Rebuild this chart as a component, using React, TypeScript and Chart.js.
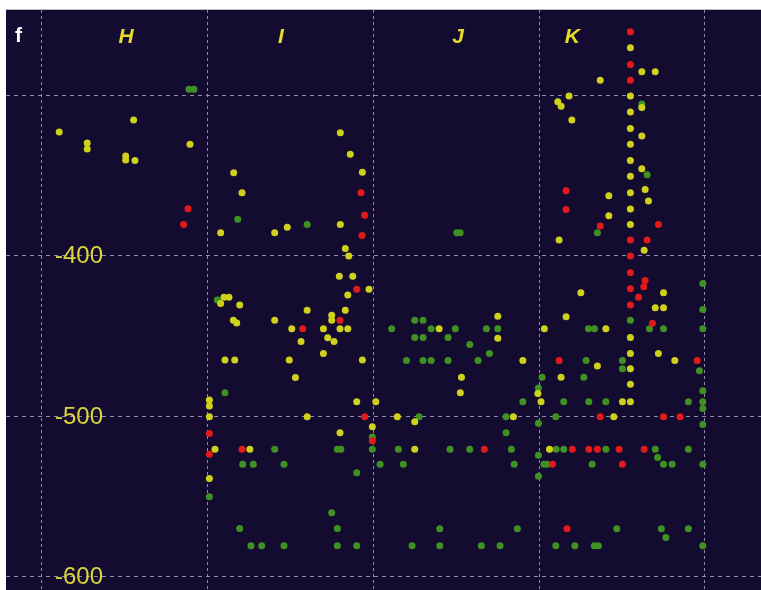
import React, { useEffect, useRef } from "react";
import { Chart, registerables } from "chart.js";

Chart.register(...registerables);

// ---- data (x in arbitrary column units, y as on the axis) ----
const yellowPts: [number, number][] = [
  [10.4, -323], [27.3, -329.9], [27.3, -333.6], [55.3, -315.6], [50.5, -338], [50.5, -340.5],
  [56.1, -340.7], [89.3, -330.7], [115.7, -348.4], [120.7, -360.9], [180, -323.5], [186, -336.8],
  [193.3, -348], [114, -244],
  [355, -270.5], [361.9, -285.5], [370, -285.5], [336.8, -290.7], [355, -300.6], [318, -300.6],
  [311.2, -304.2], [313.2, -306.9], [319.7, -315.6], [361.9, -307.7], [355, -310.6], [355, -320.8],
  [361.9, -325.5], [355, -330.7], [355, -340.7], [361.9, -345.9], [355, -350.5], [363.9, -358.8],
  [355, -360.9], [342, -362.7], [365.9, -366],
  [107.8, -385.8], [140.4, -385.8], [148, -382.4], [180, -380.6], [183, -395.5], [185.1, -400.3],
  [179.4, -412.8], [187.5, -412.8], [197.3, -421], [184.5, -424.6], [109.8, -426], [112.8, -426],
  [107.8, -429.8], [119.3, -430.8], [160, -434], [183, -434], [174.8, -437.1], [174.8, -440.2],
  [115.5, -440.2], [117.5, -441.9], [140.4, -440.2], [150.7, -445.6], [169.8, -445.6], [179.8, -445.6],
  [184.5, -445.6], [172.4, -451.2], [176.2, -453.5], [156.3, -453.5], [169.8, -461], [110.4, -465.1],
  [116.3, -465.1], [149.2, -465.1], [193.3, -465.1], [152.9, -475.9], [101, -490], [101, -493.7],
  [189.9, -491], [201.4, -491],
  [355, -371], [342, -375.2], [355, -380.6], [312, -390.3], [363.3, -396.6], [375, -423.2],
  [370, -432.5], [375, -432.5], [325.1, -423.2], [316.2, -438.1], [303.1, -445.6], [340.2, -445.6],
  [355, -451], [355, -461], [371.9, -461], [335.1, -468.7], [355, -470.5], [381.8, -465.3],
  [355, -480.2], [313.2, -475.7], [299.2, -485.9], [290.1, -465.3], [239.6, -445.6], [275, -437.7],
  [275, -451.4], [253.1, -475.7], [252.4, -485.4],
  [301.1, -491], [350.2, -491], [355, -491], [214.4, -500.4], [224.9, -503.5], [284.4, -500.4],
  [345, -500.4], [224.9, -520.6], [306.2, -520.6],
  [101, -500.4], [160, -500.4], [179.8, -510.3], [199.3, -506.6], [104.4, -520.6], [125.4, -520.6],
  [101, -538.8],
];

const greenPts: [number, number][] = [
  [88.7, -296.3], [91.7, -296.3], [361.9, -305.6], [365.1, -349.7], [118.1, -377.3], [160, -380.6],
  [105.8, -427.7], [110.4, -485.4],
  [335.1, -385.8], [250.3, -385.8], [252.3, -385.8], [398.7, -417.3], [398.7, -433.5], [355, -440.2],
  [366.5, -445.6], [375, -445.6], [398.7, -445.6], [329.7, -445.6], [333.3, -445.6], [350.2, -465.3],
  [350.2, -470.5], [396.7, -471.7], [398.7, -484.2], [328.3, -465.3], [326.9, -475.7], [301.7, -475.7],
  [299.5, -482.4], [211, -445.6], [224.9, -440.2], [229.9, -440.2], [234.8, -445.6], [249.4, -445.6],
  [224.9, -451], [229.9, -451], [245, -451], [258.1, -455.3], [268.1, -445.6], [275, -445.6],
  [270, -461], [219.9, -465.3], [229.9, -465.3], [234.8, -465.3], [245, -465.3], [263.1, -465.3],
  [290.1, -491], [314.8, -491], [329.9, -491], [340.2, -491], [390, -491], [398.7, -491],
  [398.7, -495.2], [227.5, -500.4], [280, -500.4], [299.5, -504.5], [310, -500.4], [398.7, -505.2],
  [280, -510.3], [215, -520.6], [246.2, -520.6], [258.1, -520.6], [283.2, -520.6], [299.5, -524.3],
  [310.2, -520.6], [314.8, -520.6], [340.2, -520.6], [370, -520.6], [371.4, -525.8], [390, -520.6],
  [204, -530], [218, -530], [284.9, -530], [299.5, -537.4], [302.9, -530], [304.6, -530],
  [331.9, -530], [375, -530], [380.2, -530], [398.7, -530], [240, -570.2], [286.8, -570.2],
  [346.8, -570.2], [373.7, -570.2], [376.4, -575.6], [390, -570.2], [223.3, -580.8], [240, -580.8],
  [265.1, -580.8], [276.4, -580.8], [310, -580.8], [321.5, -580.8], [333.3, -580.8], [335.7, -580.8],
  [398.7, -580.8],
  [199.3, -513], [199.3, -520.6], [140.4, -520.6], [178.2, -520.6], [180.3, -520.6], [121.1, -530],
  [127.5, -530], [146, -530], [189.9, -535.2], [101, -550.2], [174.8, -560.2], [119.3, -570],
  [178.2, -570], [126.1, -580.8], [132.6, -580.8], [146, -580.8], [178.2, -580.8], [189.9, -580.8],
];

const redPts: [number, number][] = [
  [192.5, -360.9], [355, -260.6], [355, -280.9], [355, -290.7], [316.2, -359.6], [88.1, -370.8],
  [85.5, -380.6], [194.7, -374.8], [193.1, -387.4], [189.9, -421], [179.8, -440.2], [157.3, -445.6],
  [316.2, -371.2], [336.8, -381.6], [371.9, -380.6], [355, -390.3], [365.1, -390.3], [355, -400.3],
  [355, -410.7], [363.9, -415.5], [363.1, -419.4], [355, -420.7], [359.9, -425.9], [355, -430.8],
  [368.3, -442.1], [395.3, -465.3], [312, -465.3], [336.8, -500.4], [375, -500.4], [385, -500.4],
  [266.9, -520.6], [320, -520.6], [329.9, -520.6], [335.1, -520.6], [348.2, -520.6], [363.3, -520.6],
  [308, -530], [350.2, -530], [316.8, -570.2], [194.7, -500.4], [199.3, -515.3], [101, -510.8],
  [101, -523.7], [120.7, -520.6],
];

const xGridTicks = [0, 100, 200, 300, 400];
const yGridTicks = [-600, -500, -400, -300];
const yTickValues = [-600, -500, -400];
const yTickLabels = ["-600", "-500", "-400"];

const columnLabels = ["H", "I", "J", "K"];
const columnLabelX = [50.7, 144.2, 251, 319.9];
const columnLabelY = -263.9;
const panelLabel = "f";

const toXY = (arr: [number, number][]) => arr.map(([x, y]) => ({ x, y }));

export default function App() {
  const ref = useRef<HTMLCanvasElement | null>(null);

  useEffect(() => {
    if (!ref.current) return;

    const bgPlugin = {
      id: "bg",
      beforeDraw(chart: any) {
        const { ctx, chartArea: a, width, height } = chart;
        ctx.save();
        ctx.fillStyle = "#ffffff";
        ctx.fillRect(0, 0, width, height);
        ctx.fillStyle = "#140c30";
        ctx.fillRect(a.left, a.top, a.right - a.left, a.bottom - a.top);
        ctx.strokeStyle = "#b8b8c0";
        ctx.lineWidth = 1;
        ctx.beginPath();
        ctx.moveTo(a.left, a.top - 0.5);
        ctx.lineTo(a.right, a.top - 0.5);
        ctx.stroke();
        ctx.restore();
      },
    };

    const labelPlugin = {
      id: "labels",
      afterDraw(chart: any) {
        const { ctx, scales, chartArea } = chart;
        ctx.save();
        // y tick labels, inside the plot
        ctx.textAlign = "left";
        ctx.textBaseline = "middle";
        ctx.fillStyle = "#ddd43a";
        ctx.font = "24px 'Liberation Sans', Arial, sans-serif";
        yTickValues.forEach((v, i) => {
          ctx.fillText(yTickLabels[i], chartArea.left + 49, scales.y.getPixelForValue(v) + 1);
        });
        // column labels
        ctx.textAlign = "center";
        ctx.fillStyle = "#e8dc2a";
        ctx.font = "italic bold 21px 'Liberation Sans', Arial, sans-serif";
        const yy = scales.y.getPixelForValue(columnLabelY);
        columnLabels.forEach((t, i) => {
          ctx.fillText(t, scales.x.getPixelForValue(columnLabelX[i]), yy);
        });
        // panel letter
        ctx.fillStyle = "#ffffff";
        ctx.font = "bold 21px 'Liberation Sans', Arial, sans-serif";
        ctx.fillText(panelLabel, 18.5, 36);
        ctx.restore();
      },
    };

    const gridColor = "#8e8aa8";

    const chart = new Chart(ref.current, {
      type: "scatter",
      data: {
        datasets: [
          { label: "red", data: toXY(redPts), backgroundColor: "#e31a1a", pointRadius: 3.5, borderWidth: 0, pointHoverRadius: 3.5 },
          { label: "yellow", data: toXY(yellowPts), backgroundColor: "#cfd21c", pointRadius: 3.5, borderWidth: 0, pointHoverRadius: 3.5 },
          { label: "green", data: toXY(greenPts), backgroundColor: "#3f9222", pointRadius: 3.5, borderWidth: 0, pointHoverRadius: 3.5 },
        ],
      },
      options: {
        animation: false,
        responsive: true,
        maintainAspectRatio: false,
        layout: { autoPadding: false, padding: { left: 6, top: 10, right: 0, bottom: 0 } },
        plugins: { legend: { display: false }, tooltip: { enabled: false } },
        events: [],
        scales: {
          x: {
            type: "linear",
            min: -21.7,
            max: 433.8,
            afterBuildTicks: (s: any) => {
              s.ticks = xGridTicks.map((v) => ({ value: v }));
            },
            ticks: { display: false },
            grid: { color: gridColor, drawTicks: false, lineWidth: 1 },
            border: { display: false, dash: [3, 3] },
          },
          y: {
            type: "linear",
            min: -608.3,
            max: -247,
            afterBuildTicks: (s: any) => {
              s.ticks = yGridTicks.map((v) => ({ value: v }));
            },
            ticks: { display: false },
            grid: { color: gridColor, drawTicks: false, lineWidth: 1 },
            border: { display: false, dash: [4, 4] },
          },
        },
      },
      plugins: [bgPlugin, labelPlugin],
    });

    return () => chart.destroy();
  }, []);

  return (
    <div style={{ position: "absolute", left: 0, top: 0, width: 761, height: 590 }}>
      <canvas ref={ref} />
    </div>
  );
}
